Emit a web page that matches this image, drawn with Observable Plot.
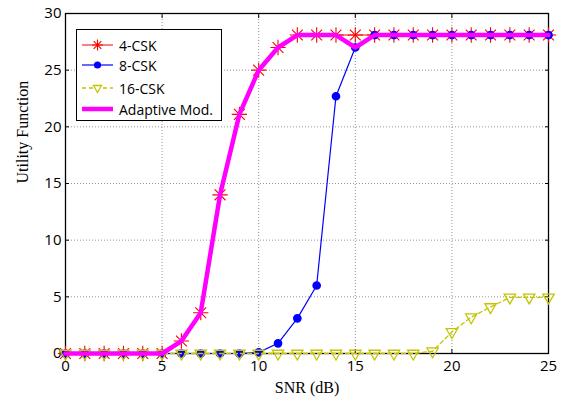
<!DOCTYPE html>
<html><head><meta charset="utf-8">
<script src="https://cdn.jsdelivr.net/npm/d3@7"></script>
<script src="https://cdn.jsdelivr.net/npm/@observablehq/plot@0.6"></script>
<style>
body{margin:0;background:#fff}
#wrap{position:relative;width:564px;height:401px}
#legend{position:absolute;left:76px;top:29px;width:146px;height:92px;border:1.5px solid #000;background:#fff;box-sizing:border-box;font-family:"Open Sans",sans-serif;font-size:14px}
#legend .row{position:absolute;left:0;height:20px;display:flex;align-items:center}
#legend svg{width:40px;height:20px;margin-right:2px}
</style>
</head><body><div id="wrap"></div>
<script>
const snr = [0,1,2,3,4,5,6,7,8,9,10,11,12,13,14,15,16,17,18,19,20,21,22,23,24,25];
const csk4 = [0,0,0,0,0,0,1.1,3.6,14.0,21.1,25.0,27.0,28.1,28.1,28.1,28.1,28.1,28.1,28.1,28.1,28.1,28.1,28.1,28.1,28.1,28.1];
const csk8 = [0,0,0,0,0,0,0,0,0,0,0.1,0.9,3.1,6.0,22.7,27.0,28.1,28.1,28.1,28.1,28.1,28.1,28.1,28.1,28.1,28.1];
const csk16 = [0,0,0,0,0,0,0,0,0,0,0,0,0,0,0,0,0,0,0,0.2,1.9,3.2,4.1,4.95,4.95,4.95];
const adaptive = [0,0,0,0,0,0,1.1,3.6,14.0,21.1,25.0,27.0,28.1,28.1,28.1,27.0,28.1,28.1,28.1,28.1,28.1,28.1,28.1,28.1,28.1,28.1];
const seriesNames = ["4-CSK","8-CSK","16-CSK","Adaptive Mod."];
const xTicks = [0,5,10,15,20,25];
const yTicks = [0,5,10,15,20,25,30];

const red = "#ff0000", blue = "#0000ff", yel = "#c4c400", mag = "#ff00ff";
const t = (arr) => snr.map((x,i)=>({snr:x, v:arr[i]}));
const d4 = t(csk4), d8 = t(csk8), d16 = t(csk16), dA = t(adaptive);

const tickFont = {fontFamily:"'Open Sans', sans-serif", fontSize:15};
const chart = Plot.plot({
  width:564, height:401,
  marginLeft:65, marginRight:16, marginTop:13, marginBottom:48,
  style:{fontFamily:"'Open Sans', sans-serif", fontSize:"15px", color:"#000", background:"#fff"},
  x:{domain:[0,25]},
  y:{domain:[0,30]},
  marks:[
    Plot.gridX(xTicks,{stroke:"#666", strokeDasharray:"1,2", strokeOpacity:0.7}),
    Plot.gridY(yTicks,{stroke:"#666", strokeDasharray:"1,2", strokeOpacity:0.7}),
    Plot.axisX(xTicks,{anchor:"bottom", tickSize:-4, tickPadding:11, label:null, ...tickFont}),
    Plot.axisX(xTicks,{anchor:"top", tickSize:-4, tickFormat:()=>"", label:null}),
    Plot.axisY(yTicks,{anchor:"left", tickSize:-4, tickPadding:8, label:null, ...tickFont}),
    Plot.axisY(yTicks,{anchor:"right", tickSize:-4, tickFormat:()=>"", label:null}),
    Plot.frame({stroke:"#000", strokeWidth:1.3}),
    Plot.text(["SNR (dB)"],{frameAnchor:"bottom", dy:39, fontFamily:"'Liberation Serif', serif", fontSize:16, fill:"#000"}),
    Plot.text(["Utility Function"],{frameAnchor:"left", dx:-43, rotate:-90, fontFamily:"'Liberation Serif', serif", fontSize:16, fill:"#000"}),
    // 4-CSK
    Plot.lineY(d4,{x:"snr", y:"v", stroke:red, strokeWidth:1}),
    Plot.dot(d4,{x:"snr", y:"v", symbol:"plus", r:5, stroke:red, strokeWidth:1.1}),
    Plot.dot(d4,{x:"snr", y:"v", symbol:"times", r:5, stroke:red, strokeWidth:1.1}),
    // 8-CSK
    Plot.lineY(d8,{x:"snr", y:"v", stroke:blue, strokeWidth:1.2}),
    Plot.dot(d8,{x:"snr", y:"v", r:3.6, fill:blue, stroke:blue}),
    // 16-CSK
    Plot.lineY(d16,{x:"snr", y:"v", stroke:yel, strokeWidth:1.3, strokeDasharray:"4,3"}),
    Plot.dot(d16,{x:"snr", y:"v", symbol:"triangle", rotate:180, r:4.2, stroke:yel, fill:"none", strokeWidth:1.3}),
    // Adaptive
    Plot.lineY(dA,{x:"snr", y:"v", stroke:mag, strokeWidth:4.5})
  ]
});
const wrap = document.getElementById("wrap");
wrap.appendChild(chart);

// legend overlay
const lg = document.createElement("div");
lg.id = "legend";
const swatches = [
  `<line x1="5" y1="10" x2="36" y2="10" stroke="${red}" stroke-width="1"/><path d="M20.5 4.5v11M15 10h11M16.7 6.2l7.6 7.6M24.3 6.2l-7.6 7.6" stroke="${red}" stroke-width="1.1" fill="none"/>`,
  `<line x1="5" y1="10" x2="36" y2="10" stroke="${blue}" stroke-width="1.2"/><circle cx="20.5" cy="10" r="3.6" fill="${blue}"/>`,
  `<line x1="5" y1="10" x2="36" y2="10" stroke="${yel}" stroke-width="1.3" stroke-dasharray="4,3"/><path d="M16.5 7.5h8l-4 7z" stroke="${yel}" stroke-width="1.3" fill="#fff"/>`,
  `<line x1="5" y1="10" x2="36" y2="10" stroke="${mag}" stroke-width="4.5"/>`
];
const rowTops = [5, 25, 48, 69];
seriesNames.forEach((name,i)=>{
  const r = document.createElement("div");
  r.className = "row";
  r.style.top = rowTops[i] + "px";
  r.innerHTML = `<svg viewBox="0 0 40 20">${swatches[i]}</svg><span>${name}</span>`;
  lg.appendChild(r);
});
wrap.appendChild(lg);
</script>
</body></html>
